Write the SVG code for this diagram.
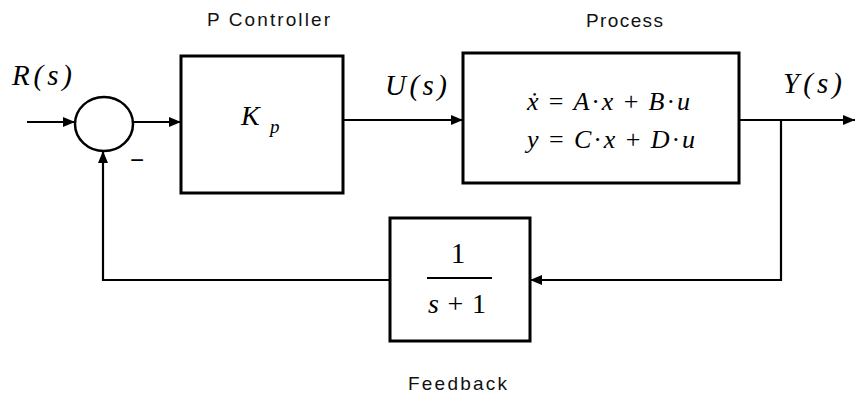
<svg xmlns="http://www.w3.org/2000/svg" width="856" height="395" viewBox="0 0 856 395">
<style>
.blk{fill:#fff;stroke:#000;stroke-width:3}
.ln{fill:none;stroke:#000;stroke-width:2.2}
.lab{font-family:"Liberation Sans",Arial,sans-serif;font-size:19px;fill:#111}
.m{font-family:"Liberation Serif","Times New Roman",serif;font-style:italic;fill:#000}
.u{font-style:normal}
</style>
<defs>
<marker id="ah" viewBox="0 0 12 10" refX="12" refY="5" markerWidth="12" markerHeight="10" markerUnits="userSpaceOnUse" orient="auto">
<path d="M0,0 L12,5 L0,10 Z" fill="#000"/>
</marker>
</defs>
<rect width="856" height="395" fill="#fff"/>
<g id="connectors">
<path class="ln" d="M27,122 H75" marker-end="url(#ah)"/>
<path class="ln" d="M133,122 H181" marker-end="url(#ah)"/>
<path class="ln" d="M343,120 H463" marker-end="url(#ah)"/>
<path class="ln" d="M739,120 H855" marker-end="url(#ah)"/>
<path class="ln" d="M781,120 V280 H530" marker-end="url(#ah)"/>
<path class="ln" d="M390,280 H103 V151" marker-end="url(#ah)"/>
</g>
<g id="sum">
<ellipse cx="104" cy="124" rx="29" ry="27" fill="#fff" stroke="#000" stroke-width="2.5"/>
<text x="137" y="168" text-anchor="middle" font-family="Liberation Sans,Arial,sans-serif" font-size="24">−</text>
</g>
<g id="controller">
<rect class="blk" x="181" y="56" width="162" height="137"/>
<text class="lab" x="207" y="26" textLength="123" lengthAdjust="spacing">P Controller</text>
<text class="m" x="241" y="125" font-size="28">K</text>
<text class="m" x="270" y="133" font-size="19">p</text>
</g>
<g id="process">
<rect class="blk" x="463" y="53" width="276" height="130"/>
<text class="lab" x="586" y="27" textLength="77" lengthAdjust="spacing">Process</text>
<text class="m" x="527" y="110" font-size="26" textLength="163" lengthAdjust="spacing">ẋ <tspan class="u">=</tspan> A<tspan class="u">·</tspan>x <tspan class="u">+</tspan> B<tspan class="u">·</tspan>u</text>
<text class="m" x="527" y="148" font-size="26" textLength="168" lengthAdjust="spacing">y <tspan class="u">=</tspan> C<tspan class="u">·</tspan>x <tspan class="u">+</tspan> D<tspan class="u">·</tspan>u</text>
</g>
<g id="feedback">
<rect class="blk" x="390" y="218" width="140" height="123"/>
<text class="lab" x="408" y="390" font-size="20" textLength="99" lengthAdjust="spacing">Feedback</text>
<text class="m u" x="458" y="263" font-size="29" text-anchor="middle">1</text>
<line x1="427" y1="278" x2="492" y2="278" stroke="#000" stroke-width="2.2"/>
<text class="m" x="428" y="313" font-size="28" textLength="58" lengthAdjust="spacing">s <tspan class="u">+ 1</tspan></text>
</g>
<g id="labels">
<text class="m" x="12" y="85" font-size="29" textLength="60" lengthAdjust="spacing">R(s)</text>
<text class="m" x="385" y="95" font-size="29" textLength="62" lengthAdjust="spacing">U(s)</text>
<text class="m" x="783" y="93" font-size="29" textLength="59" lengthAdjust="spacing">Y(s)</text>
</g>
</svg>
